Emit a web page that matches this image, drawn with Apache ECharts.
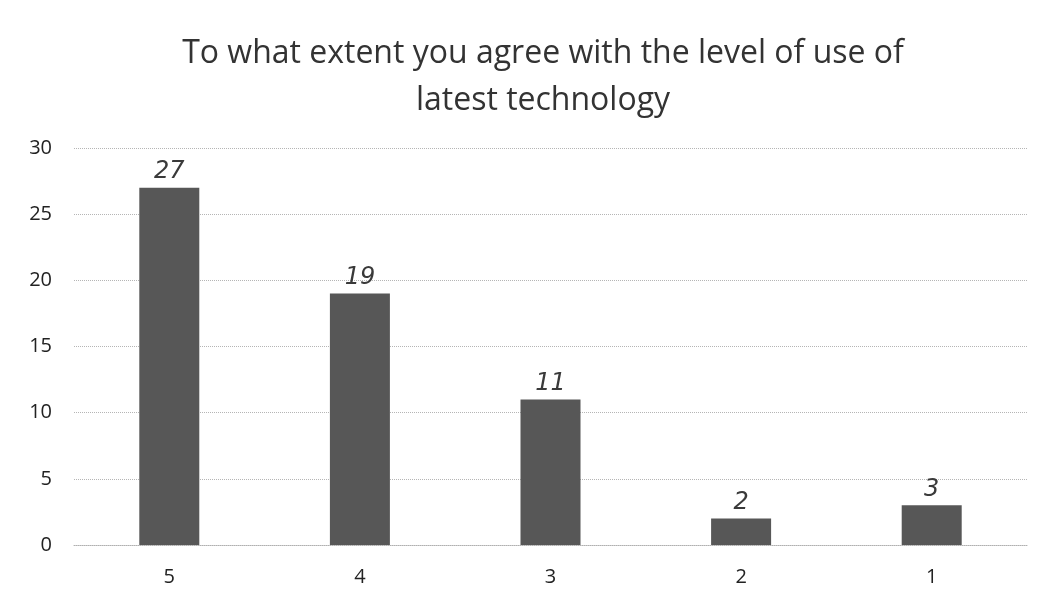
<!DOCTYPE html>
<html>
<head>
<meta charset="utf-8">
<script src="https://cdn.jsdelivr.net/npm/echarts@6/dist/echarts.min.js"></script>
<style>
  html, body { margin: 0; padding: 0; background: #fff; }
  #tech-chart { width: 1047px; height: 606px; }
</style>
</head>
<body>
<div id="tech-chart"></div>
<script>
// 分类（评分）
const categories = ['5', '4', '3', '2', '1']
// 每个评分的人数
const counts = [27, 19, 11, 2, 3]
// Y轴刻度
const yTicks = { min: 0, max: 30, interval: 5 }

const myChart = echarts.init(document.getElementById('tech-chart'))
const option = {
  backgroundColor: '#ffffff',
  title: {
    text: 'To what extent you agree with the level of use of\nlatest technology',
    left: 538,
    top: 25,
    textAlign: 'center',
    textStyle: {
      color: '#333333',
      fontFamily: 'Open Sans',
      fontSize: 32,
      fontWeight: 'normal',
      lineHeight: 47
    }
  },
  grid: {
    left: 74,
    right: 20,
    top: 148,
    bottom: 61
  },
  xAxis: {
    type: 'category',
    data: categories,
    axisTick: { show: false },
    axisLine: {
      lineStyle: { color: '#b0b0b0', width: 1, type: 'dotted' }
    },
    axisLabel: {
      color: '#222222',
      fontFamily: 'Open Sans',
      fontSize: 20,
      margin: 22
    }
  },
  yAxis: {
    type: 'value',
    min: yTicks.min,
    max: yTicks.max,
    interval: yTicks.interval,
    axisLine: { show: false },
    axisTick: { show: false },
    axisLabel: {
      color: '#222222',
      fontFamily: 'Open Sans',
      fontSize: 20,
      margin: 22
    },
    splitLine: {
      lineStyle: { color: '#b5b5b5', width: 1, type: 'dotted' }
    }
  },
  series: [
    {
      type: 'bar',
      data: counts,
      barWidth: 60,
      itemStyle: {
        color: '#575757'
      },
      label: {
        show: true,
        position: 'top',
        distance: 4,
        color: '#3a3a3a',
        fontFamily: 'DejaVu Sans',
        fontStyle: 'italic',
        fontSize: 24
      }
    }
  ]
}
myChart.setOption(option)
window.addEventListener('resize', function() {
  myChart.resize()
})
</script>
</body>
</html>
